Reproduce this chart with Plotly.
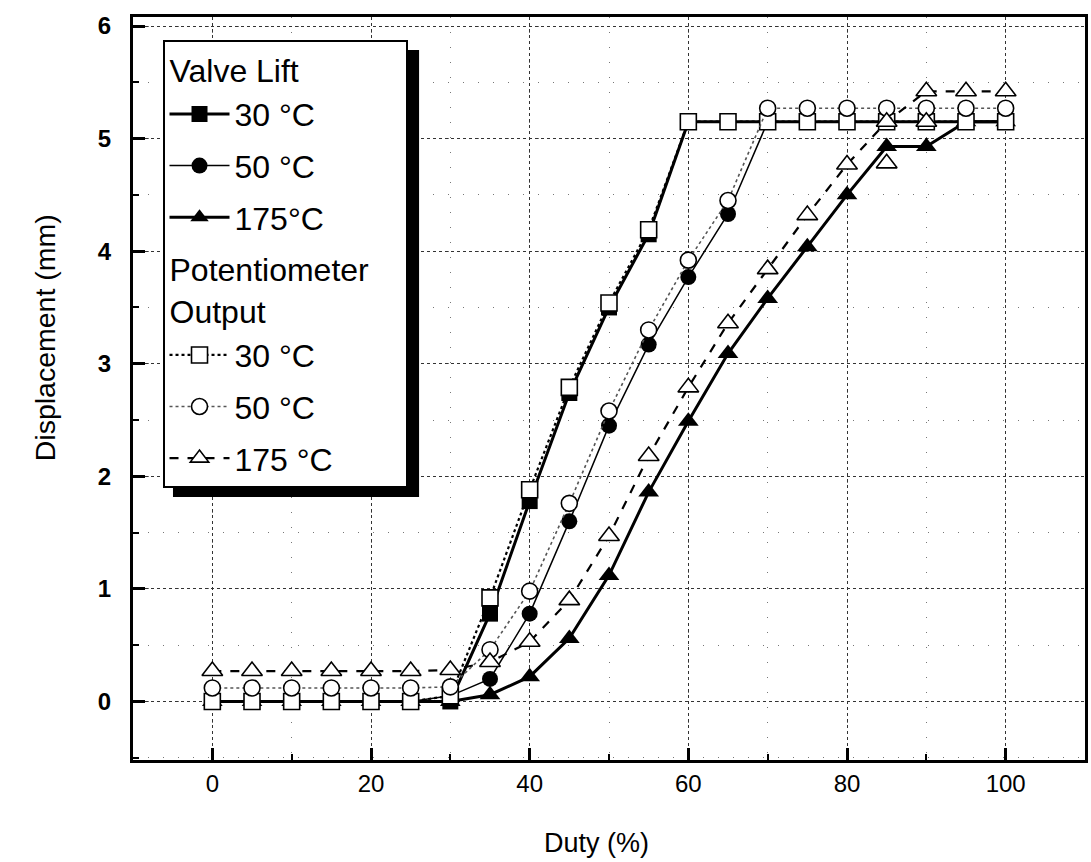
import plotly.graph_objects as go

duty = [0, 5, 10, 15, 20, 25, 30, 35, 40, 45, 50, 55, 60, 65, 70, 75, 80, 85, 90, 95, 100]

valve_30 = [0, 0, 0, 0, 0, 0, 0, 0.78, 1.78, 2.74, 3.50, 4.15, 5.15, 5.15, 5.15, 5.15, 5.15, 5.15, 5.15, 5.15, 5.15]
valve_50 = [0, 0, 0, 0, 0, 0, 0.05, 0.20, 0.78, 1.60, 2.45, 3.17, 3.77, 4.33, 5.15, 5.15, 5.15, 5.15, 5.15, 5.15, 5.15]
valve_175 = [0, 0, 0, 0, 0, 0, 0, 0.06, 0.22, 0.56, 1.12, 1.86, 2.49, 3.09, 3.58, 4.04, 4.50, 4.93, 4.93, 5.15, 5.15]

pot_30 = [0, 0, 0, 0, 0, 0, 0.05, 0.92, 1.88, 2.79, 3.54, 4.19, 5.15, 5.15, 5.15, 5.15, 5.15, 5.15, 5.15, 5.15, 5.15]
pot_50 = [0.12, 0.12, 0.12, 0.12, 0.12, 0.12, 0.13, 0.46, 0.98, 1.76, 2.58, 3.30, 3.92, 4.45, 5.27, 5.27, 5.27, 5.27, 5.27, 5.27, 5.27]
pot_175 = [0.27, 0.27, 0.27, 0.27, 0.27, 0.27, 0.28, 0.35, 0.53, 0.90, 1.47, 2.18, 2.79, 3.36, 3.84, 4.32, 4.77, 5.15, 5.42, 5.42, 5.42]
pot_175_extra_x = [85, 90]
pot_175_extra_y = [4.78, 5.15]

x_ticks = [0, 20, 40, 60, 80, 100]
y_ticks = [0, 1, 2, 3, 4, 5, 6]

FONT = "Liberation Sans, Arial, sans-serif"

fig = go.Figure()

def add(y, name, group, gtitle, symbol, filled, dash, lw, lcolor="black", size=16):
    kw = dict(legendgrouptitle_text=gtitle) if gtitle else {}
    fig.add_trace(go.Scatter(
        x=duty, y=y, name=name, mode="lines+markers",
        legendgroup=group, **kw,
        line=dict(color=lcolor, width=lw, dash=dash),
        marker=dict(symbol=symbol, size=size,
                    color="black" if filled else "white",
                    line=dict(color="black", width=0 if filled else 1.6)),
    ))

add(valve_30, "30 °C", "g1", "Valve Lift", "square", True, "solid", 3)
add(valve_50, "50 °C", "g2", None, "circle", True, "solid", 1.5)
add(valve_175, "175°C", "g3", None, "triangle-up", True, "solid", 3, size=18)
add(pot_30, "30 °C", "g4", "Potentiometer\u00a0\u00a0\u00a0<br>Output", "square", False, "dot", 2.2)
add(pot_50, "50 °C", "g5", None, "circle", False, "dot", 1.6, lcolor="#555555")
add(pot_175, "175 °C", "g6", None, "triangle-up", False, "dash", 2.2, size=18)

fig.add_trace(go.Scatter(
    x=pot_175_extra_x, y=pot_175_extra_y, mode="markers", showlegend=False,
    marker=dict(symbol="triangle-up", size=18, color="white", line=dict(color="black", width=1.6)),
))

# legend shadow
fig.add_shape(type="rect", xref="paper", yref="paper",
              x0=0.042, x1=0.3005, y0=0.354, y1=0.9556,
              fillcolor="black", line=dict(width=0), layer="above")

axis_common = dict(
    showline=True, linecolor="black", linewidth=3, mirror=True,
    ticks="inside", tickcolor="black", tickwidth=2.5, ticklen=12,
    showgrid=True, gridcolor="#333333", griddash="dot", gridwidth=1,
    zeroline=False,
    tickfont=dict(family=FONT, size=24, color="black"),
)

fig.update_xaxes(
    range=[-10, 110], tickvals=x_ticks,
    minor=dict(dtick=10, ticks="inside", ticklen=6, tickwidth=2, tickcolor="black",
               showgrid=True, gridcolor="#777777", griddash="1px 14px", gridwidth=1),
    **axis_common,
)
fig.update_yaxes(
    range=[-0.52, 6.08], tickvals=y_ticks,
    ticklabelstandoff=14,
    minor=dict(dtick=0.5, ticks="inside", ticklen=6, tickwidth=2, tickcolor="black",
               showgrid=True, gridcolor="#777777", griddash="1px 14px", gridwidth=1),
    **axis_common,
)
fig.update_yaxes(tickfont=dict(family=FONT, size=24, color="black", weight="bold"))

# axis titles (placed as in the original figure)
fig.add_annotation(text="Duty (%)", xref="paper", yref="paper",
                   x=(598 - 133) / 955, y=-(843 - 760) / 743,
                   showarrow=False, xanchor="center", yanchor="middle",
                   font=dict(family=FONT, size=27, color="black"))
fig.add_annotation(text="Displacement (mm)", xref="paper", yref="paper",
                   x=(45 - 133) / 955, y=(760 - 338) / 743, textangle=-90,
                   showarrow=False, xanchor="center", yanchor="middle",
                   font=dict(family=FONT, size=28.5, color="black"))

fig.update_layout(
    width=1091, height=862,
    margin=dict(l=133, r=3, t=17, b=102),
    paper_bgcolor="white", plot_bgcolor="white",
    font=dict(family=FONT, color="black"),
    legend=dict(
        x=0.031, y=0.969, xanchor="left", yanchor="top",
        bgcolor="white", bordercolor="black", borderwidth=2,
        font=dict(family=FONT, size=32, color="black"),
        grouptitlefont=dict(family=FONT, size=32, color="black"),
        tracegroupgap=7, itemwidth=60,
    ),
)

fig.write_html("out.html")
